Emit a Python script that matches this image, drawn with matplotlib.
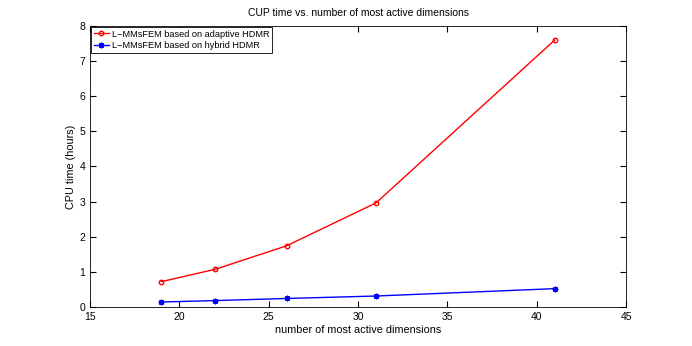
import numpy as np
import matplotlib
matplotlib.use("Agg")
import matplotlib.pyplot as plt

# number of most active dimensions
dims = [19, 22, 26, 31, 41]
# CPU time in hours
adaptive = [0.72, 1.07, 1.74, 2.96, 7.60]
hybrid = [0.14, 0.18, 0.24, 0.31, 0.52]

fs = 7.5
plt.rcParams['font.family'] = ['Liberation Sans', 'DejaVu Sans']

fig = plt.figure(figsize=(6.92, 3.46), dpi=100)
ax = fig.add_axes([0.13, 0.113, 0.775, 0.812])

ax.plot(dims, adaptive, 'r-', marker='o', lw=1, ms=3.2, mfc='none', mew=1,
        label="L\u2212MMsFEM based on adaptive HDMR")
ax.plot(dims, hybrid, 'b-', marker=(8, 2, 0), lw=1, ms=4, mew=1,
        label="L\u2212MMsFEM based on hybrid HDMR")

ax.set_xlim(15, 45)
ax.set_ylim(0, 8)
ax.set_xticks(np.arange(15, 46, 5))
ax.set_yticks(np.arange(0, 9, 1))
ax.tick_params(direction='in', top=True, right=True, labelsize=fs, length=4)
for s in ax.spines.values():
    s.set_linewidth(0.6)

ax.set_xlabel("number of most active dimensions", fontsize=7.8, labelpad=2)
ax.set_ylabel("CPU time (hours)", fontsize=7.8, labelpad=2)
ax.set_title("CUP time vs. number of most active dimensions", fontsize=fs, pad=7)

leg = ax.legend(loc='upper left', fontsize=6.6, fancybox=False, borderaxespad=0.1,
                handlelength=1.7, handletextpad=0.3, borderpad=0.3,
                labelspacing=0.3, framealpha=1)
leg.get_frame().set_edgecolor('black')
leg.get_frame().set_linewidth(0.6)

fig.savefig("out.png", dpi=100)
